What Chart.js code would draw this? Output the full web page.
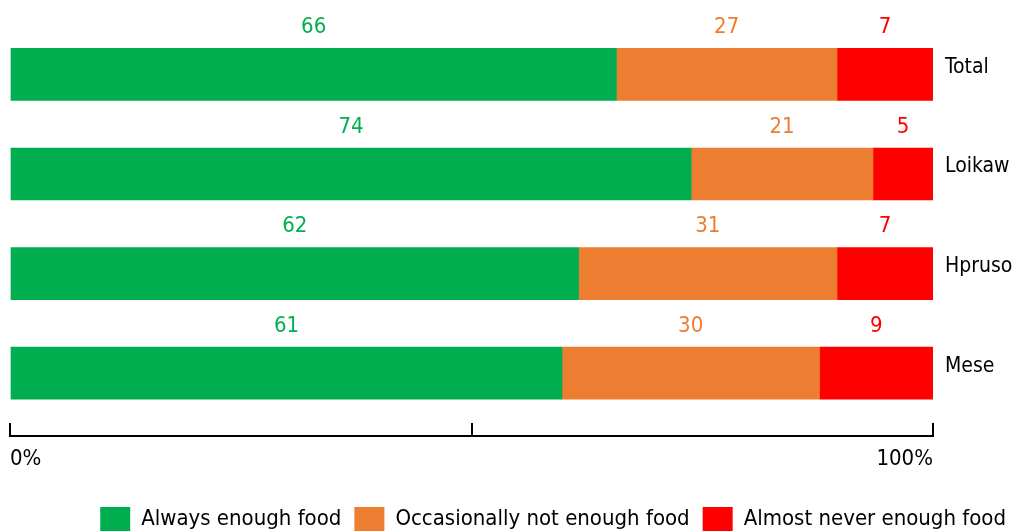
<!DOCTYPE html>
<html>
<head>
<meta charset="utf-8">
<script src="https://cdn.jsdelivr.net/npm/chart.js@4/dist/chart.umd.min.js"></script>
<style>
  html, body { margin: 0; padding: 0; background: #fff; }
</style>
</head>
<body>
<canvas id="foodChart" width="1019" height="531"></canvas>
<script>
// categories and series (bar lengths, printed labels as shown)
var regions = ["Total", "Loikaw", "Hpruso", "Mese"];
var seriesNames = ["Always enough food", "Occasionally not enough food", "Almost never enough food"];

var alwaysEnough = [65.7, 73.8, 61.6, 59.8];
var occasionallyNot = [23.9, 19.7, 28.0, 27.9];
var almostNever = [10.4, 6.5, 10.4, 12.3];

var alwaysLabels = ["66", "74", "62", "61"];
var occasionallyLabels = ["27", "21", "31", "30"];
var almostNeverLabels = ["7", "5", "7", "9"];

var xTicks = [0, 50, 100];

var FONT = "'Liberation Sans Narrow', 'DejaVu Sans Condensed', 'Roboto', sans-serif";

// value labels above each segment
var segmentLabels = {
  id: "segmentLabels",
  afterDatasetsDraw: function (chart) {
    var ctx = chart.ctx;
    ctx.save();
    ctx.font = "22px " + FONT;
    ctx.textAlign = "center";
    ctx.textBaseline = "middle";
    chart.data.datasets.forEach(function (ds, i) {
      var meta = chart.getDatasetMeta(i);
      meta.data.forEach(function (bar, j) {
        var cx = (bar.x + bar.base) / 2;
        var cy = bar.y - bar.height / 2 - 21;
        ctx.fillStyle = ds.labelColor;
        ctx.fillText(ds.valueLabels[j], cx, cy);
      });
    });
    ctx.restore();
  }
};

// axis line sits at the foot of the tick marks
var axisLine = {
  id: "axisLine",
  afterDraw: function (chart) {
    var x = chart.scales.x;
    var y = x.top + x.options.grid.tickLength;
    var ctx = chart.ctx;
    ctx.save();
    ctx.strokeStyle = "#000";
    ctx.lineWidth = 2;
    ctx.beginPath();
    ctx.moveTo(x.left - 1, y);
    ctx.lineTo(x.right + 1, y);
    ctx.stroke();
    ctx.restore();
  }
};

var ctx = document.getElementById("foodChart").getContext("2d");
var chart = new Chart(ctx, {
  type: "bar",
  data: {
    labels: regions,
    datasets: [
      {
        label: seriesNames[0],
        data: alwaysEnough,
        valueLabels: alwaysLabels,
        backgroundColor: "#00AE4F",
        labelColor: "#00B050",
      },
      {
        label: seriesNames[1],
        data: occasionallyNot,
        valueLabels: occasionallyLabels,
        backgroundColor: "#ED7D31",
        labelColor: "#ED7D31",
      },
      {
        label: seriesNames[2],
        data: almostNever,
        valueLabels: almostNeverLabels,
        backgroundColor: "#FF0000",
        labelColor: "#FF0000",
      },
    ],
  },
  options: {
    indexAxis: "y",
    responsive: false,
    animation: false,
    devicePixelRatio: 1,
    layout: {
      // legend box runs off the bottom edge like in the original
      padding: { left: 10, right: 0, top: 23, bottom: -10 },
    },
    datasets: {
      bar: {
        barThickness: 52,
        borderWidth: 0,
      },
    },
    scales: {
      x: {
        stacked: true,
        min: 0,
        max: 100,
        afterBuildTicks: function (scale) {
          scale.ticks = xTicks.map(function (v) { return { value: v }; });
        },
        afterFit: function (scale) {
          scale.height = 71;
        },
        ticks: {
          align: "inner",
          padding: 10,
          color: "#000",
          font: { family: FONT, size: 22 },
          maxRotation: 0,
          callback: function (v) {
            return v === 0 || v === 100 ? v + "%" : "";
          },
        },
        grid: {
          drawOnChartArea: false,
          drawTicks: true,
          tickLength: 13,
          color: "#000",
          lineWidth: 2,
        },
        border: { display: false },
      },
      y: {
        stacked: true,
        position: "right",
        afterFit: function (scale) {
          scale.width = 86;
        },
        ticks: {
          padding: 12,
          labelOffset: -7,
          color: "#000",
          font: { family: FONT, size: 21 },
        },
        grid: { display: false, drawTicks: false },
        border: { display: false },
      },
    },
    plugins: {
      legend: {
        position: "bottom",
        align: "end",
        labels: {
          boxWidth: 30,
          boxHeight: 24,
          padding: 13,
          color: "#000",
          font: { family: FONT, size: 22 },
        },
      },
      tooltip: { enabled: false },
    },
  },
  plugins: [segmentLabels, axisLine],
});
</script>
</body>
</html>
